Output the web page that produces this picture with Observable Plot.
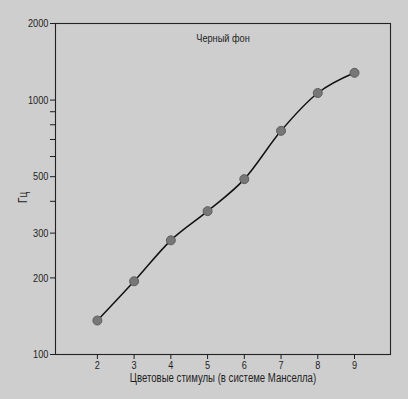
<!DOCTYPE html>
<html>
<head>
<meta charset="utf-8">
<script src="https://cdn.jsdelivr.net/npm/d3@7"></script>
<script src="https://cdn.jsdelivr.net/npm/@observablehq/plot@0.6"></script>
<style>
  html, body { margin: 0; padding: 0; background: #cecece; }
  svg { display: block; }
</style>
</head>
<body>
<div id="chart"></div>
<script>
const stimuli = [2, 3, 4, 5, 6, 7, 8, 9];
const hertz = [136, 194, 281, 366, 489, 757, 1066, 1280];
const xTicks = [2, 3, 4, 5, 6, 7, 8, 9];
const yTicks = [100, 200, 300, 500, 1000, 2000];
const yMinorTicks = [400, 600, 700, 800, 900];
const title = "Черный фон";
const xLabel = "Цветовые стимулы (в системе Манселла)";
const yLabel = "Гц";

const data = stimuli.map((s, i) => ({x: s, y: hertz[i]}));
const font = "'Liberation Sans', Arial, sans-serif";

const chart = Plot.plot({
  width: 408,
  height: 399,
  marginLeft: 55,
  marginRight: 18,
  marginTop: 23,
  marginBottom: 45,
  style: {background: "#cecece", fontFamily: font, fontSize: "11px", color: "#1e1e1e"},
  x: {domain: [0.86, 9.98]},
  y: {type: "log", domain: [100, 2000]},
  marks: [
    Plot.frame({stroke: "#222", strokeWidth: 1.1}),
    Plot.axisX({ticks: xTicks, tickSize: 5, tickPadding: 1, label: null, fontSize: 11.5}),
    Plot.axisY({ticks: yTicks, tickSize: 5, tickPadding: 2, tickFormat: d => String(d), label: null, fontSize: 11.5}),
    Plot.axisY({ticks: yMinorTicks, tickSize: 5, tickFormat: () => "", label: null}),
    Plot.line(data, {x: "x", y: "y", curve: "monotone-x", stroke: "#111", strokeWidth: 1.5}),
    Plot.dot(data, {x: "x", y: "y", r: 4.5, fill: "#777777", stroke: "#5e5e5e", strokeWidth: 1}),
    Plot.text([title], {frameAnchor: "top", dy: 15, lineAnchor: "middle", fontSize: 11.5, fill: "#1e1e1e"}),
    Plot.text([xLabel], {frameAnchor: "bottom", dy: 24, lineAnchor: "middle", fontSize: 12, fill: "#1e1e1e"}),
    Plot.text([yLabel], {frameAnchor: "left", dx: -33, dy: 14, rotate: -90, fontSize: 12.5, fill: "#1e1e1e"})
  ]
});
document.getElementById("chart").appendChild(chart);

// Narrow the glyphs to match the condensed typeface of the original
d3.select(chart).selectAll("text").each(function() {
  const len = this.getComputedTextLength();
  if (len > 0) {
    this.setAttribute("textLength", (len * 0.8).toFixed(1));
    this.setAttribute("lengthAdjust", "spacingAndGlyphs");
  }
});
</script>
</body>
</html>
